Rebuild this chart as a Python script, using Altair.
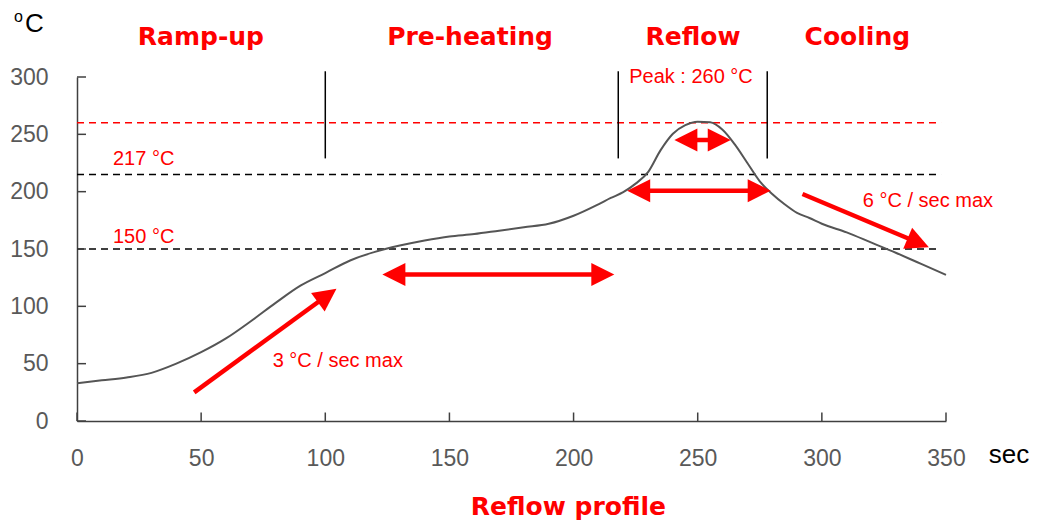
import math
import altair as alt
import pandas as pd

# ---------------- data ----------------
time_s = [0, 10, 20, 30, 40, 50, 60, 70, 80, 90, 100, 110, 120, 130, 140, 150, 160,
          170, 180, 190, 200, 210, 215, 220, 225, 230, 235, 240, 245, 250, 255, 260,
          265, 270, 275, 280, 285, 290, 295, 300, 310, 320, 330, 340, 350]
temp_c = [33, 35.5, 38, 42, 50, 60, 72, 87, 103, 118, 129, 140, 147.5, 153, 157.5, 161, 163,
          166, 169, 172, 179, 189, 194.5, 199.5, 207, 217, 236, 250.5, 258, 261, 260.5, 254,
          241, 225, 209, 198, 189, 181.5, 177, 172, 164.5, 155.5, 146.5, 137, 127.5]

x_ticks = [0, 50, 100, 150, 200, 250, 300, 350]
y_ticks = [0, 50, 100, 150, 200, 250, 300]

limit_levels = [260, 215, 150]
limit_colors = ["#ff0000", "#000000", "#000000"]
limit_end = 348

phase_bounds = [100, 218, 278]
phase_bound_low, phase_bound_high = 229, 305

# arrows: x1, y1, x2, y2, heads
arrow_x1 = [47.2, 123.0, 221.6, 240.6, 292.2]
arrow_y1 = [25.0, 127.8, 200.9, 245.0, 198.0]
arrow_x2 = [104.5, 216.4, 279.4, 263.3, 343.1]
arrow_y2 = [115.4, 127.8, 200.9, 245.0, 151.6]
arrow_kind = ["end", "both", "both", "both", "end"]

phase_titles = ["Ramp-up", "Pre-heating", "Reflow", "Cooling"]
phase_title_x = [49.9, 158.3, 248.1, 314.3]

# ---------------- layout ----------------
W, H = 869, 344
KX, KY = W / 350, H / 300
RED = "#ff0000"

xs = alt.Scale(domain=[0, 350], nice=False, zero=False)
ys = alt.Scale(domain=[0, 300], nice=False, zero=False)

curve_df = pd.DataFrame({"t": time_s, "T": temp_c})
curve = alt.Chart(curve_df).mark_line(
    color="#555555", strokeWidth=2, interpolate="monotone"
).encode(
    x=alt.X("t:Q", scale=xs, axis=alt.Axis(
        values=x_ticks, title=None, grid=False, tickSize=0, labelPadding=26,
        labelFontSize=23, labelFont="Liberation Sans", labelColor="#595959",
        labelFlush=False, domainColor="#404040", domainWidth=1.5)),
    y=alt.Y("T:Q", scale=ys, axis=alt.Axis(
        values=y_ticks, title=None, grid=False, tickSize=0, labelPadding=29,
        labelFontSize=23, labelFont="Liberation Sans", labelColor="#595959",
        labelFlush=False, labelBaseline="middle", domainColor="#404040",
        domainWidth=1.5)),
)

# inward ticks
ytick_df = pd.DataFrame({"v": y_ticks})
ytick = alt.Chart(ytick_df).mark_rule(color="#404040", strokeWidth=1.5).encode(
    y=alt.Y("v:Q", scale=ys), x=alt.value(0), x2=alt.value(9))
xtick_df = pd.DataFrame({"v": x_ticks})
xtick = alt.Chart(xtick_df).mark_rule(color="#404040", strokeWidth=1.5).encode(
    x=alt.X("v:Q", scale=xs), y=alt.value(H), y2=alt.value(H - 8.5))

# dashed limit lines
lim_df = pd.DataFrame({"y": limit_levels, "c": limit_colors,
                       "x0": [0] * 3, "x1": [limit_end] * 3})
limits = alt.Chart(lim_df).mark_rule(strokeDash=[7, 5], strokeWidth=1.5).encode(
    x=alt.X("x0:Q", scale=xs), x2="x1:Q", y=alt.Y("y:Q", scale=ys),
    color=alt.Color("c:N", scale=None))

# phase boundaries
pb_df = pd.DataFrame({"x": phase_bounds, "y0": [phase_bound_low] * 3,
                      "y1": [phase_bound_high] * 3})
bounds = alt.Chart(pb_df).mark_rule(color="#000000", strokeWidth=1.5).encode(
    x=alt.X("x:Q", scale=xs), y=alt.Y("y0:Q", scale=ys), y2="y1:Q")

# arrows
shafts, heads = [], []
BACK = 12
for x1, y1, x2, y2, kind in zip(arrow_x1, arrow_y1, arrow_x2, arrow_y2, arrow_kind):
    dxp, dyp = (x2 - x1) * KX, -(y2 - y1) * KY
    L = math.hypot(dxp, dyp)
    ux, uy = dxp / L, dyp / L
    ang = math.degrees(math.atan2(dyp, dxp)) % 360
    ex, ey = x2 - BACK * ux / KX, y2 + BACK * uy / KY
    heads.append({"x": x2, "y": y2, "a": ang})
    if kind == "both":
        sx, sy = x1 + BACK * ux / KX, y1 - BACK * uy / KY
        heads.append({"x": x1, "y": y1, "a": (ang + 180) % 360})
    else:
        sx, sy = x1, y1
    shafts.append({"x": sx, "y": sy, "x2": ex, "y2": ey})

shaft_layer = alt.Chart(pd.DataFrame(shafts)).mark_rule(
    color=RED, strokeWidth=4.5).encode(
    x=alt.X("x:Q", scale=xs), y=alt.Y("y:Q", scale=ys), x2="x2:Q", y2="y2:Q")
head_layer = alt.Chart(pd.DataFrame(heads)).mark_point(
    shape="M0,0L-2,-1L-2,1Z", filled=True, size=529, color=RED, opacity=1,
    strokeWidth=0).encode(
    x=alt.X("x:Q", scale=xs), y=alt.Y("y:Q", scale=ys),
    angle=alt.Angle("a:Q", scale=None))


def label(text, x, y, size, color, font="Liberation Sans", weight="normal",
          align="left"):
    df = pd.DataFrame({"x": [x], "y": [y], "t": [text]})
    return alt.Chart(df).mark_text(
        fontSize=size, color=color, font=font, fontWeight=weight, align=align,
        baseline="alphabetic").encode(
        x=alt.X("x:Q", scale=xs), y=alt.Y("y:Q", scale=ys), text="t:N")


texts = []
for t, x in zip(phase_titles, phase_title_x):
    texts.append(label(t, x, 327.9, 25, RED, font="DejaVu Sans", weight="bold",
                       align="center"))
texts.append(label("Reflow profile", 197.9, -82, 25, RED, font="DejaVu Sans",
                   weight="bold", align="center"))
texts.append(label("217 °C", 14.5, 223.3, 20, RED))
texts.append(label("150 °C", 14.5, 155, 20, RED))
texts.append(label("Peak : 260 °C", 222.4, 294.5, 20, RED))
texts.append(label("3 °C / sec max", 78.8, 47.4, 20, RED))
texts.append(label("6 °C / sec max", 316.5, 186.4, 20, RED))
texts.append(label("sec", 367.2, -36.9, 26, "#000000"))
texts.append(label("C", -20.9, 339.2, 26, "#000000"))
texts.append(label("o", -25.4, 348, 16, "#000000"))

chart = alt.layer(
    limits, bounds, curve, ytick, xtick, shaft_layer, head_layer, *texts
).properties(
    width=W, height=H,
    padding={"left": 69, "top": 69, "right": 86, "bottom": 100},
    autosize=alt.AutoSizeParams(type="none"),
    background="white",
).configure_view(stroke=None)

chart.save("out.html", embed_options={"renderer": "svg", "actions": False})
